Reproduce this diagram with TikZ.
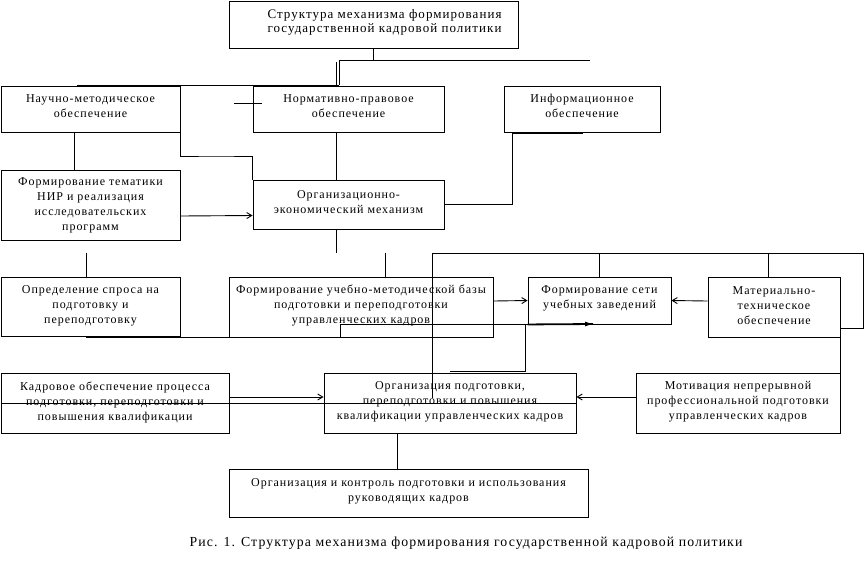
\documentclass[tikz,border=0pt]{standalone}
\usepackage{fontspec}
\setmainfont[LetterSpace=8]{Liberation Serif}
\usetikzlibrary{arrows.meta,calc}
\begin{document}
\begin{tikzpicture}[x=1pt,y=-1pt,
  box/.style={draw,line width=0.9pt,inner sep=0pt},
  lab/.style={inner sep=0pt,align=center,font=\fontsize{12}{15}\selectfont},
  ln/.style={line width=0.9pt},
  arr/.style={line width=0.9pt,-{Straight Barb[length=5pt,width=6pt]}},
  farr/.style={line width=0.9pt,-{Latex[length=8pt,width=5pt]}}]
\useasboundingbox[fill=white] (0,0) rectangle (866,566);
% boxes
\node[box,minimum width=289,minimum height=47] (top) at (373.5,24.5) {};
\node[lab,font=\fontsize{13}{14.5}\selectfont] (ttop) at ([xshift=11,yshift=2]top.center) {Структура механизма формирования\\государственной кадровой политики};
\node[box,minimum width=179,minimum height=46] (nauch) at (90.5,109) {};
\node[lab] (tnauch) at ([yshift=3]nauch.center) {Научно-методическое\\обеспечение};
\node[box,minimum width=191,minimum height=46] (norm) at (348.5,109) {};
\node[lab] (tnorm) at ([yshift=3]norm.center) {Нормативно-правовое\\обеспечение};
\node[box,minimum width=156,minimum height=46] (inform) at (582,109) {};
\node[lab] (tinform) at ([yshift=3]inform.center) {Информационное\\обеспечение};
\node[box,minimum width=179,minimum height=70] (tem) at (90.5,205) {};
\node[lab] (ttem) at ([yshift=0]tem.center) {Формирование тематики\\НИР и реализация\\исследовательских\\программ};
\node[box,minimum width=191,minimum height=49] (orgecon) at (348.5,204.5) {};
\node[lab] (torgecon) at ([yshift=2]orgecon.center) {Организационно-\\экономический механизм};
\node[box,minimum width=179,minimum height=59] (spros) at (90.5,306.5) {};
\node[lab] (tspros) at ([yshift=1]spros.center) {Определение спроса на\\подготовку и\\переподготовку};
\node[box,minimum width=264,minimum height=60] (ucheb) at (361,307) {};
\node[lab] (tucheb) at ([yshift=1.5]ucheb.center) {Формирование учебно-методической базы\\подготовки и переподготовки\\управленческих кадров};
\node[box,minimum width=143,minimum height=47] (set) at (599.5,300.5) {};
\node[lab] (tset) at ([yshift=2]set.center) {Формирование сети\\учебных заведений};
\node[box,minimum width=132,minimum height=60] (mat) at (774,307) {};
\node[lab] (tmat) at ([yshift=1]mat.center) {Материально-\\техническое\\обеспечение};
\node[box,minimum width=228,minimum height=60] (kadr) at (115,403) {};
\node[lab] (tkadr) at ([yshift=1]kadr.center) {Кадровое обеспечение процесса\\подготовки, переподготовки и\\повышения квалификации};
\node[box,minimum width=252,minimum height=60] (orgpod) at (450,403) {};
\node[lab] (torgpod) at ([yshift=1]orgpod.center) {Организация подготовки,\\переподготовки и повышения\\квалификации управленческих кадров};
\node[box,minimum width=204,minimum height=60] (motiv) at (738,403) {};
\node[lab] (tmotiv) at ([yshift=1]motiv.center) {Мотивация непрерывной\\профессиональной подготовки\\управленческих кадров};
\node[box,minimum width=359,minimum height=48] (kontr) at (408.5,493) {};
\node[lab] (tkontr) at ([yshift=2]kontr.center) {Организация и контроль подготовки и использования\\руководящих кадров};
\node[inner sep=0pt,font=\fontsize{13.8}{15}\selectfont] (cap) at (466,543) {Рис. 1. Структура механизма формирования государственной кадровой политики};
% coordinates
\coordinate (j1) at (339,60);
\coordinate (e1) at (590,60);
\coordinate (j0) at (336,62);
\coordinate (h1) at (77,85);
\coordinate (h2) at (339,85);
\coordinate (h0) at (336,85);
\coordinate (s1) at (234,103);
\coordinate (s2) at (262,103);
\coordinate (b1) at (86,337.5);
\coordinate (b2) at (340,337.5);
\coordinate (b3) at (340,324);
\coordinate (b4) at (600,324);
\coordinate (b5) at (593,324);
\coordinate (lp0) at (432,398);
\coordinate (lp1) at (432,253);
\coordinate (lp2) at (863,253);
\coordinate (lp3) at (863,328);
\coordinate (g1) at (450,371.5);
% top connectors
\draw[ln] (top.south) -- (top.south |- j1);
\draw[ln] (j1) -- (e1);
\draw[ln] (j1) -- (h2);
\draw[ln] (j0) -- (h0);
\draw[ln] (h1) -- (h2);
\draw[ln] (s1) -- (s2);
\draw[ln] ([xshift=-16]nauch.south) -- ([xshift=-16]tem.north);
\draw[ln] (nauch.south east) |- ($(nauch.south east)!0.5!(orgecon.north west)$) -| (orgecon.north west);
\draw[ln] ([xshift=-12.5]norm.south) -- ([xshift=-12.5]orgecon.north);
\draw[ln] ([xshift=9]inform.south west) |- (orgecon.east);
\draw[line width=1.8pt] ([xshift=9,yshift=-0.5]inform.south west) -- ([xshift=79,yshift=-0.5]inform.south west);
\draw[arr] ([yshift=-11]tem.east) -- ([yshift=-11]orgecon.west);
\draw[ln] ([xshift=-12.5]orgecon.south) -- ++(0,24);
\draw[ln] ([xshift=-4.5]spros.north) -- ++(0,-24);
\draw[ln] ([xshift=24]ucheb.north) -- ++(0,-24);
% loop
\draw[ln] (lp0) -- (lp1) -- (lp2) -- (lp3) -- ([yshift=-21]mat.east);
\draw[ln] (set.north) -- (set.north |- lp1);
\draw[ln] ([xshift=-6]mat.north) -- ([xshift=-6]mat.north |- lp1);
\draw[arr] ([yshift=6]ucheb.east) -- (set.west);
\draw[arr] ([yshift=6]mat.west) -- (set.east);
% bottom line with filled arrow
\draw[ln] (b1) -- (b2) -- (b3) -- (b4);
\draw[line width=1.8pt] (set.south west) -- (b5);
\draw[farr] ($(b5)+(-10,0)$) -- (b5);
\draw[ln] ([xshift=-2]set.south west) |- (g1);
\draw[line width=1.6pt] ([xshift=-2]set.south west |- g1) -- (g1);
\draw[ln] (mat.south east) -- (motiv.north east);
\draw[arr] ([yshift=6]motiv.west) -- ([yshift=6]orgpod.east);
\draw[arr] ([yshift=6]kadr.east) -- ([yshift=6]orgpod.west);
\draw[ln] (kadr.west) -- (orgpod.east);
\draw[ln] ([xshift=-53]orgpod.south) -- ([xshift=-53]orgpod.south |- kontr.north);
\end{tikzpicture}
\end{document}
